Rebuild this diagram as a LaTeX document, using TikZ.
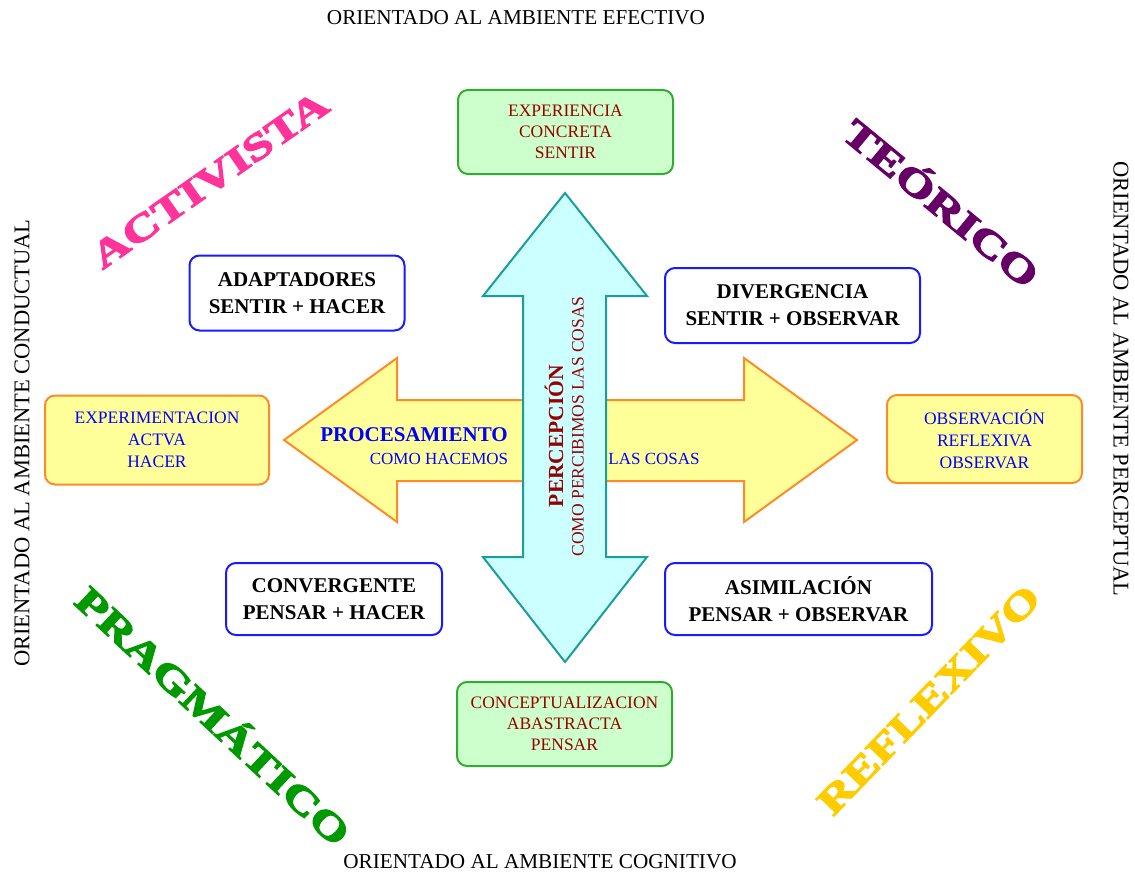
\documentclass[tikz,border=0pt]{standalone}
\usepackage{fontspec}
\setmainfont{Liberation Serif}
\newfontfamily\wordart[BoldFeatures={FakeBold=3}]{Liberation Serif}
\definecolor{cyanfill}{HTML}{CCFFFF}
\definecolor{tealline}{HTML}{1A9E9A}
\definecolor{yelfill}{HTML}{FFFF99}
\definecolor{orgline}{HTML}{FF8A2A}
\definecolor{grnfill}{HTML}{CCFFCC}
\definecolor{grnline}{HTML}{33AA33}
\definecolor{bluebd}{HTML}{1A1AFF}
\definecolor{darkred}{HTML}{990000}
\definecolor{txtblue}{HTML}{0000FF}
\definecolor{wpink}{HTML}{FF3399}
\definecolor{wpurple}{HTML}{660066}
\definecolor{wgreen}{HTML}{009900}
\definecolor{wgold}{HTML}{FFCC00}
\tikzset{
  box/.style={rounded corners=10pt, line width=2pt, align=center, inner sep=0pt},
  greenbox/.style={box, draw=grnline, fill=grnfill, text=darkred, font=\fontsize{17.5}{21}\selectfont},
  yellowbox/.style={box, draw=orgline, fill=yelfill, text=txtblue, font=\fontsize{17.5}{22}\selectfont},
  bluebox/.style={box, draw=bluebd, fill=white, text=black, font=\bfseries\fontsize{21}{27}\selectfont},
  sidetext/.style={font=\fontsize{21.2}{24}\selectfont, inner sep=0pt},
  vsidetext/.style={font=\fontsize{22.5}{24}\selectfont, inner sep=0pt},
  arrowtext/.style={inner sep=0pt},
  wa/.style={inner sep=0pt, font=\wordart\bfseries\fontsize{38}{38}\selectfont},
  harrow/.style={fill=yelfill, draw=orgline, line width=2pt, line join=miter},
  varrow/.style={fill=cyanfill, draw=tealline, line width=2pt, line join=miter}
}
\begin{document}
\begin{tikzpicture}[x=1pt,y=-1pt]
\useasboundingbox[fill=white] (0,0) rectangle (1135,872);

% side labels
\node[sidetext] (top) at (516,18) {ORIENTADO AL AMBIENTE EFECTIVO};
\node[sidetext] (bottom) at (540,862) {ORIENTADO AL AMBIENTE COGNITIVO};
\node[vsidetext, rotate=90] (left) at (22,443) {ORIENTADO AL AMBIENTE CONDUCTUAL};
\node[vsidetext, rotate=-90] (right) at (1121,379) {ORIENTADO AL AMBIENTE PERCEPTUAL};

% word art
\node[wa, text=wpink, rotate=35] (activista) at (210,180) {\scalebox{1.34}[1]{ACTIVISTA}};
\node[wa, text=wpurple, rotate=-39.5] (teorico) at (943,201) {\scalebox{1.34}[1]{TEÓRICO}};
\node[wa, text=wgreen, rotate=-43] (pragmatico) at (215,714) {\scalebox{1.34}[1]{PRAGMÁTICO}};
\node[wa, text=wgold, rotate=46] (reflexivo) at (929,700) {\scalebox{1.34}[1]{REFLEXIVO}};

% boxes
\node[greenbox, minimum width=215pt, minimum height=84pt] (ec) at (565.5,132) {EXPERIENCIA\\CONCRETA\\SENTIR};
\node[greenbox, minimum width=215pt, minimum height=84pt] (ca) at (564.5,724) {CONCEPTUALIZACION\\ABASTRACTA\\PENSAR};
\node[yellowbox, minimum width=224pt, minimum height=89pt] (ea) at (157,440) {EXPERIMENTACION\\ACTVA\\HACER};
\node[yellowbox, minimum width=195pt, minimum height=88pt] (or) at (984.5,439) {OBSERVACIÓN\\REFLEXIVA\\OBSERVAR};
\node[bluebox, minimum width=215pt, minimum height=75pt] (adap) at (297,293) {ADAPTADORES\\SENTIR + HACER};
\node[bluebox, minimum width=255pt, minimum height=75pt] (div) at (792.5,305.5) {DIVERGENCIA\\SENTIR + OBSERVAR};
\node[bluebox, minimum width=216pt, minimum height=72pt] (conv) at (334,599) {CONVERGENTE\\PENSAR + HACER};
\node[bluebox, minimum width=267pt, minimum height=72pt] (asim) at (798.5,599) {ASIMILACIÓN\\PENSAR + OBSERVAR};

% horizontal arrow
\draw[harrow] (284,440) -- (397,358) -- (397,400) -- (744,400) -- (744,358) -- (857,440)
  -- (744,522) -- (744,481) -- (397,481) -- (397,522) -- cycle;
% vertical arrow
\draw[varrow] (565,193) -- (647,296) -- (606,296) -- (606,557) -- (647,557) -- (565,662)
  -- (483,557) -- (523,557) -- (523,296) -- (483,296) -- cycle;

% arrow texts
\node[arrowtext, text=txtblue, font=\bfseries\fontsize{21}{24}\selectfont] (proc) at (414,435) {PROCESAMIENTO};
\node[arrowtext, text=txtblue, font=\fontsize{17}{20}\selectfont] (como) at (439,459) {COMO HACEMOS};
\node[arrowtext, text=txtblue, font=\fontsize{17}{20}\selectfont] (cosas) at (654,459) {LAS COSAS};
\node[arrowtext, text=darkred, rotate=90, font=\bfseries\fontsize{21.5}{24}\selectfont] (perc) at (554,436) {PERCEPCIÓN};
\node[arrowtext, text=darkred, rotate=90, font=\fontsize{17.5}{20}\selectfont] (percsub) at (578,426.5) {COMO PERCIBIMOS LAS COSAS};
\end{tikzpicture}
\end{document}
